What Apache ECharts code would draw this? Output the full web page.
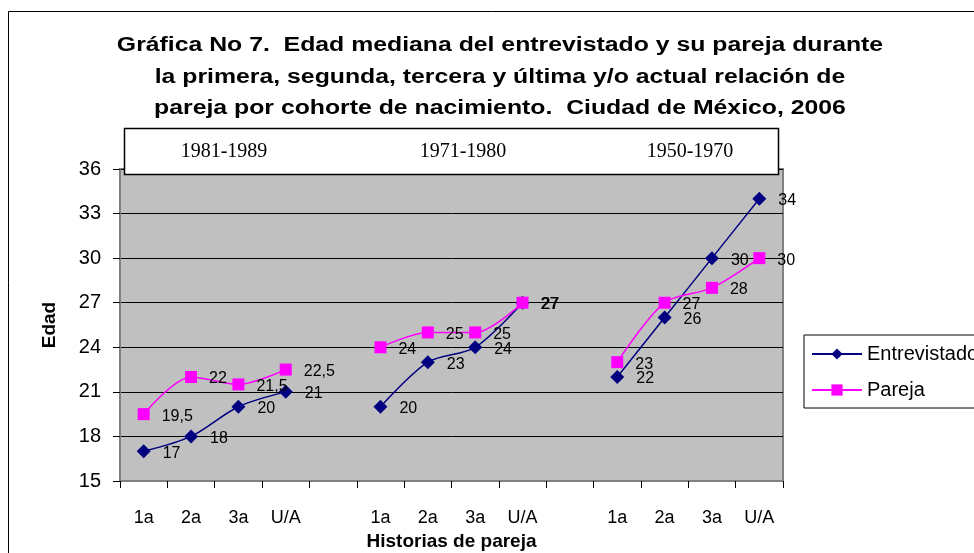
<!DOCTYPE html>
<html>
<head>
<meta charset="utf-8">
<script src="https://cdn.jsdelivr.net/npm/echarts@6/dist/echarts.min.js"></script>
<style>
  html, body { margin: 0; padding: 0; background: #fff; }
  #chart { width: 974px; height: 553px; }
</style>
</head>
<body>
<div id="chart"></div>
<script>
// categorías: 3 cohortes x 4 relaciones, con un hueco entre cohortes
const categories = ['1a', '2a', '3a', 'U/A', '', '1a', '2a', '3a', 'U/A', '', '1a', '2a', '3a', 'U/A']
const cohorts = ['1981-1989', '1971-1980', '1950-1970']
const entrevistado = [17, 18, 20, 21, null, 20, 23, 24, 27, null, 22, 26, 30, 34]
const pareja = [19.5, 22, 21.5, 22.5, null, 24, 25, 25, 27, null, 23, 27, 28, 30]
const yTicks = { min: 15, max: 36, step: 3 }

const titleText = 'Gráfica No 7.  Edad mediana del entrevistado y su pareja durante\n' +
  'la primera, segunda, tercera y última y/o actual relación de\n' +
  'pareja por cohorte de nacimiento.  Ciudad de México, 2006'

let myChart = echarts.init(document.getElementById('chart'))

const fmt = (p) => String(p.value).replace('.', ',')
const serif = '20px "Liberation Serif", "Times New Roman", serif'

let option = {
  animation: false,
  textStyle: { fontFamily: 'Liberation Sans, Arial, sans-serif' },
  grid: {
    left: 120,
    right: 191,
    top: 169,
    bottom: 72,
    outerBoundsMode: 'none',
    show: true,
    backgroundColor: '#C0C0C0',
    borderColor: '#808080',
    borderWidth: 2
  },
  graphic: [
    {
      type: 'rect',
      shape: { x: 8.5, y: 11.5, width: 1100, height: 700 },
      style: { fill: 'none', stroke: '#000', lineWidth: 1 },
      silent: true
    },
    {
      type: 'text',
      x: 500,
      y: 30,
      scaleX: 1.24,
      style: {
        text: titleText,
        font: 'bold 20px "Liberation Sans", Arial, sans-serif',
        textAlign: 'center',
        lineHeight: 31.5,
        fill: '#000'
      }
    },
    {
      type: 'rect',
      z: 10,
      shape: { x: 124.5, y: 128.5, width: 654, height: 46 },
      style: { fill: '#fff', stroke: '#000', lineWidth: 1.5 }
    },
    {
      type: 'text', z: 11, x: 224, y: 152,
      style: { text: cohorts[0], font: serif, textAlign: 'center', textVerticalAlign: 'middle', fill: '#000' }
    },
    {
      type: 'text', z: 11, x: 463, y: 152,
      style: { text: cohorts[1], font: serif, textAlign: 'center', textVerticalAlign: 'middle', fill: '#000' }
    },
    {
      type: 'text', z: 11, x: 690, y: 152,
      style: { text: cohorts[2], font: serif, textAlign: 'center', textVerticalAlign: 'middle', fill: '#000' }
    }
  ],
  legend: {
    left: 804,
    top: 335,
    orient: 'vertical',
    backgroundColor: '#fff',
    borderColor: '#000',
    borderWidth: 1,
    padding: [9, 40, 8, 7],
    itemWidth: 50,
    itemHeight: 14,
    itemGap: 16,
    textStyle: { fontSize: 20, color: '#000' },
    data: ['Entrevistado', 'Pareja']
  },
  xAxis: {
    type: 'category',
    data: categories,
    boundaryGap: true,
    name: 'Historias de pareja',
    nameLocation: 'middle',
    nameGap: 50,
    nameTextStyle: { fontSize: 19, fontWeight: 'bold', color: '#000' },
    axisLine: { lineStyle: { color: '#808080', width: 2 } },
    axisTick: { show: true, interval: 0, length: 7, lineStyle: { color: '#000' } },
    axisLabel: { interval: 0, margin: 28, fontSize: 18, color: '#000' },
    splitLine: { show: false }
  },
  yAxis: {
    type: 'value',
    min: yTicks.min,
    max: yTicks.max,
    interval: yTicks.step,
    name: 'Edad',
    nameLocation: 'middle',
    nameGap: 61,
    nameRotate: 90,
    nameTextStyle: { fontSize: 19, fontWeight: 'bold', color: '#000' },
    axisLine: { show: true, lineStyle: { color: '#808080', width: 2 } },
    axisTick: { show: true, length: 7, lineStyle: { color: '#000' } },
    axisLabel: { fontSize: 20, color: '#000', margin: 19 },
    splitLine: { lineStyle: { color: '#000', width: 1 } }
  },
  series: [
    {
      name: 'Entrevistado',
      type: 'line',
      data: entrevistado,
      smooth: 0.3,
      connectNulls: false,
      symbol: 'diamond',
      symbolSize: 14,
      itemStyle: { color: '#000080' },
      lineStyle: { color: '#000080', width: 1.5 },
      label: {
        show: true,
        position: 'right',
        distance: 12,
        offset: [0, 2],
        fontSize: 16,
        color: '#000',
        formatter: fmt
      }
    },
    {
      name: 'Pareja',
      type: 'line',
      data: pareja,
      smooth: 0.3,
      connectNulls: false,
      symbol: 'rect',
      symbolSize: 12,
      itemStyle: { color: '#FF00FF' },
      lineStyle: { color: '#FF00FF', width: 1.5 },
      label: {
        show: true,
        position: 'right',
        distance: 12,
        offset: [0, 2],
        fontSize: 16,
        color: '#000',
        formatter: fmt
      }
    }
  ]
}

myChart.setOption(option)
</script>
</body>
</html>
